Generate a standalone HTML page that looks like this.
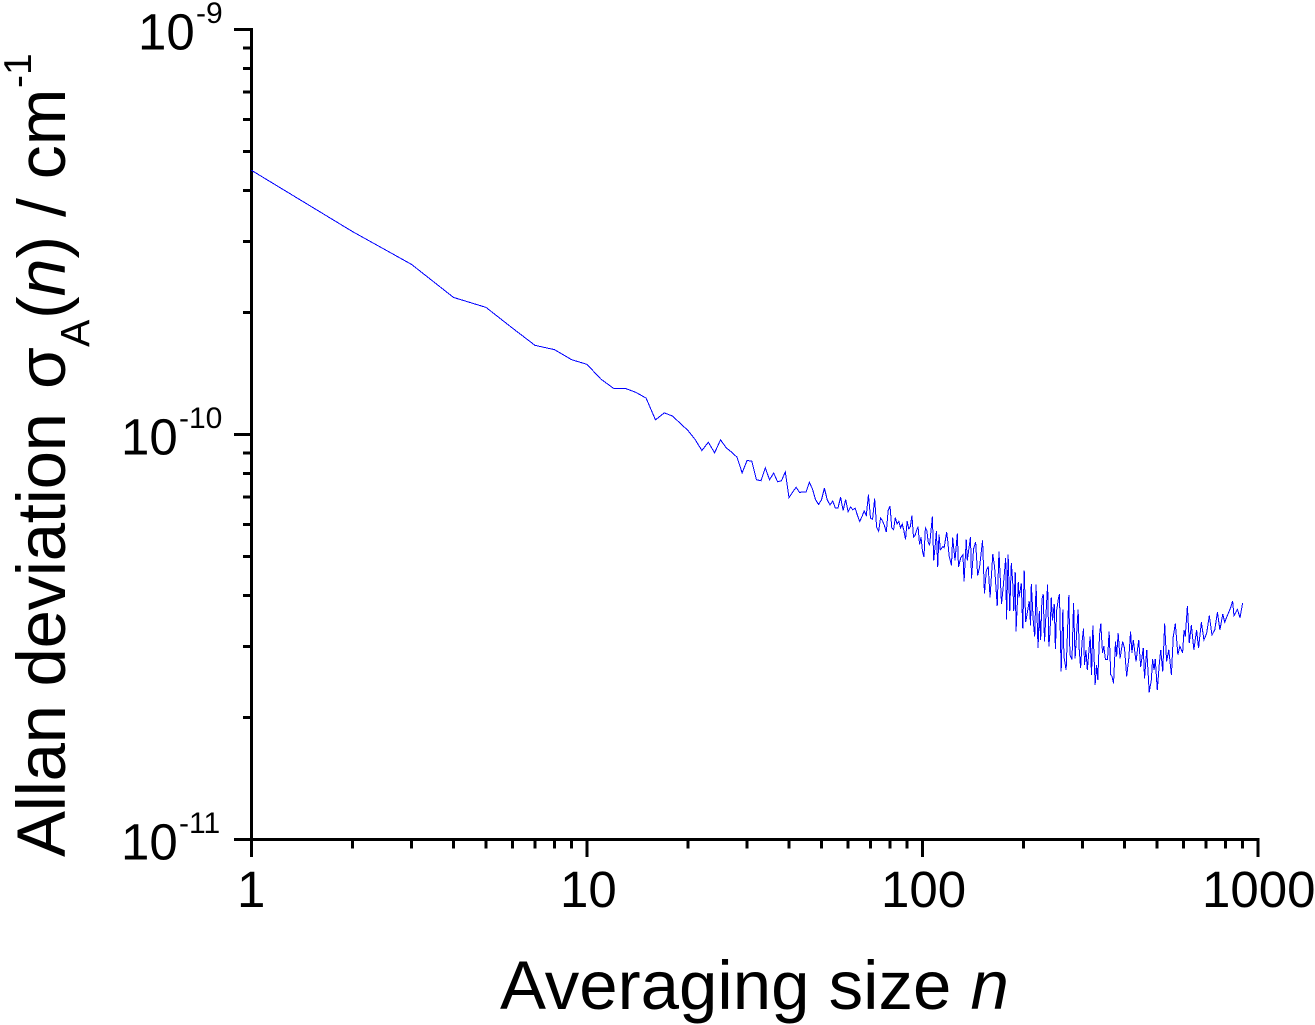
<!DOCTYPE html>
<html lang="en">
<head>
<meta charset="utf-8">
<title>Allan deviation plot</title>
<style>
html,body{margin:0;padding:0;background:#fff;width:1315px;height:1025px;overflow:hidden}
svg{display:block}
text{font-family:"Liberation Sans",Arial,sans-serif;fill:#000}
</style>
</head>
<body>
<svg id="chart" xmlns="http://www.w3.org/2000/svg" width="1315" height="1025" viewBox="0 0 1315 1025">
  <g id="axes" shape-rendering="crispEdges"></g>
  <polyline id="series" fill="none" stroke="#0000ff" stroke-width="1" stroke-linejoin="miter" shape-rendering="crispEdges" points=""></polyline>
  <g id="labels"></g>
  <text x="500" y="1009" font-size="69">Averaging size <tspan font-style="italic">n</tspan></text>
  <g>
    <text transform="translate(65,857) rotate(-90)" font-size="69" textLength="444" lengthAdjust="spacing">Allan deviation</text>
    <text transform="translate(65,389) rotate(-90)" font-size="68">σ</text>
    <text transform="translate(89,347) rotate(-90)" font-size="41">A</text>
    <text transform="translate(65,319) rotate(-90)" font-size="68">(<tspan font-style="italic">n</tspan>) / cm</text>
    <text transform="translate(31,88) rotate(-90)" font-size="39">-1</text>
  </g>
</svg>
<script>
// Averaging size n
const nValues = [1,2,3,4,5,6,7,8,9,10,11,12,13,14,15,16,17,18,19,20,21,22,23,24,25,26,27,28,29,30,31,32,33,34,35,36,37,38,39,40,41,42,43,44,45,46,47,48,49,50,51,52,53,54,55,56,57,58,59,60,61,62,63,64,65,66,67,68,69,70,71,72,73,74,75,76,77,78,79,80,81,82,83,84,85,86,87,88,89,90,91,92,93,94,95,96,97,98,99,100,101,102,103,104,105,107,108,109,110,111,112,113,115,116,118,119,120,122,123,125,127,128,130,132,133,135,136,139,140,142,144,146,148,151,153,155,157,159,162,164,167,169,172,174,177,178,180,182,184,186,187,189,190,193,194,197,199,201,203,205,208,210,211,214,216,218,221,223,225,227,229,231,236,238,240,242,244,247,249,251,254,256,259,262,264,268,273,275,279,282,285,291,293,296,299,302,304,307,310,316,319,322,324,327,330,333,337,340,344,347,351,356,360,364,367,371,376,379,383,388,395,400,406,412,417,421,425,433,441,447,455,459,466,474,481,485,490,494,501,508,513,520,527,534,542,552,559,567,577,585,596,602,607,616,624,633,644,656,665,678,690,703,716,729,743,757,770,785,796,810,829,840,848,868,884,900];
// Allan deviation, in units of 1e-11 cm^-1
const sigmaValues = [44.9,31.7,26.3,21.8,20.6,18.3,16.6,16.2,15.3,14.9,13.7,13.0,13.0,12.7,12.3,10.87,11.31,11.1,10.64,10.23,9.72,9.13,9.57,9.01,9.70,9.27,9.04,8.79,8.04,8.63,8.59,7.73,7.69,8.27,7.73,8.03,7.64,7.69,8.09,6.98,7.20,7.41,7.19,7.22,7.22,7.62,7.33,6.90,6.72,6.90,7.37,6.90,6.70,6.85,6.58,6.59,7.00,6.49,6.91,6.45,6.62,6.52,6.58,6.31,6.10,6.27,6.47,6.31,7.10,6.21,6.18,6.94,5.90,5.77,6.22,6.12,5.96,5.74,6.49,6.66,5.88,5.82,6.24,6.01,6.10,5.88,6.01,5.79,5.50,6.12,5.85,5.92,6.31,5.58,5.63,5.79,5.92,5.35,5.58,5.14,4.98,5.88,5.79,5.43,5.33,6.27,4.89,5.27,5.77,4.71,5.67,5.19,5.29,5.25,5.74,5.43,5.02,4.75,5.56,4.89,5.69,4.71,4.96,5.05,4.33,5.50,4.89,5.58,4.41,5.22,5.43,4.49,4.71,5.48,4.05,4.62,4.71,3.96,5.07,4.71,3.77,5.14,3.82,4.20,4.96,3.49,5.05,3.67,4.82,4.23,3.67,4.57,3.26,4.32,3.96,4.29,3.32,4.62,3.44,3.60,3.88,3.38,4.27,3.44,3.17,4.26,2.97,3.67,3.11,3.92,4.04,3.08,4.26,3.00,3.26,3.96,3.47,3.81,2.95,3.67,3.92,4.04,2.60,3.70,2.83,2.62,4.02,2.86,2.78,3.84,2.80,3.70,2.97,2.65,3.08,3.32,2.70,2.94,2.62,3.17,2.55,3.38,2.94,2.41,2.70,2.48,3.20,3.41,2.89,3.00,2.78,2.78,3.26,2.55,2.53,2.43,3.08,2.83,3.23,2.80,3.08,2.97,2.53,2.80,3.26,2.89,3.11,2.75,3.11,2.67,2.97,2.50,2.94,2.31,2.48,2.79,2.62,2.79,2.34,2.72,2.94,2.60,3.41,2.75,2.94,2.55,3.17,3.41,2.86,3.00,2.89,3.29,3.17,3.77,3.06,3.38,2.94,3.29,2.97,3.44,3.11,3.23,3.57,3.20,3.29,3.64,3.29,3.60,3.44,3.57,3.74,3.88,3.57,3.70,3.53,3.84];
const xMajorTicks = [1,10,100,1000];
const xMinorTicks = [2,3,4,5,6,7,8,9,20,30,40,50,60,70,80,90,200,300,400,500,600,700,800,900];
const yMajorTicks = [100,10,1];
const yMinorTicks = [90,80,70,60,50,40,30,20,9,8,7,6,5,4,3,2];
const xTickLabels = ["1","10","100","1000"];
const xTickLabelStarts = [237,560,881,1202];
const yTickBases = ["10","10","10"];
const yTickExponents = ["-9","-10","-11"];
const yTickLabelStarts = [138,121,121];

const NS = "http://www.w3.org/2000/svg";
function xScale(n){ return 251.5 + 335.5 * Math.log10(n); }
function yScale(v){ return 839.5 - 405 * Math.log10(v); }

const axes = document.getElementById("axes");
const labels = document.getElementById("labels");

function addLine(x1, y1, x2, y2, name){
  const el = document.createElementNS(NS, "line");
  el.setAttribute("x1", x1);
  el.setAttribute("y1", y1);
  el.setAttribute("x2", x2);
  el.setAttribute("y2", y2);
  el.setAttribute("stroke", "#000");
  el.setAttribute("stroke-width", "3");
  
  
  axes.appendChild(el);
}

addLine(251.5, 28, 251.5, 857, "y-axis-line");
addLine(234, 839.5, 1259.5, 839.5, "x-axis-line");

xMajorTicks.forEach(function(t){ addLine(xScale(t), 839.5, xScale(t), 857, "x-major-tick"); });
xMinorTicks.forEach(function(t){ addLine(xScale(t), 839.5, xScale(t), 848.5, "x-minor-tick"); });
yMajorTicks.forEach(function(t){ addLine(234, yScale(t), 251.5, yScale(t), "y-major-tick"); });
yMinorTicks.forEach(function(t){ addLine(243, yScale(t), 251.5, yScale(t), "y-minor-tick"); });

xTickLabels.forEach(function(s, i){
  const el = document.createElementNS(NS, "text");
  el.setAttribute("x", xTickLabelStarts[i]);
  el.setAttribute("y", 907);
  el.setAttribute("font-size", "51");
  el.textContent = s;
  
  
  labels.appendChild(el);
});

yMajorTicks.forEach(function(t, i){
  const tickY = yScale(t);
  const base = document.createElementNS(NS, "text");
  base.setAttribute("x", yTickLabelStarts[i]);
  base.setAttribute("y", tickY + 20);
  base.setAttribute("font-size", "51");
  base.textContent = yTickBases[i];
  
  
  labels.appendChild(base);
  const exp = document.createElementNS(NS, "text");
  exp.setAttribute("x", yTickLabelStarts[i] + 58);
  exp.setAttribute("y", tickY - 6.5);
  exp.setAttribute("font-size", "30");
  exp.textContent = yTickExponents[i];
  
  
  labels.appendChild(exp);
});

const pts = nValues.map(function(n, i){
  return xScale(n).toFixed(2) + "," + yScale(sigmaValues[i]).toFixed(2);
});
document.getElementById("series").setAttribute("points", pts.join(" "));
</script>
</body>
</html>
